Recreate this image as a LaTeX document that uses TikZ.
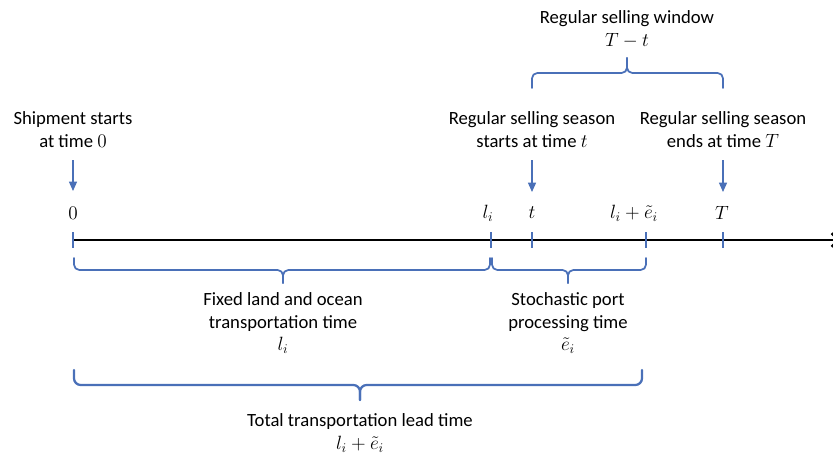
\documentclass[tikz,border=0pt]{standalone}
\usepackage{fontspec}
\setmainfont{Carlito}
\usepackage{amsmath}
\usetikzlibrary{arrows.meta}
\definecolor{obl}{HTML}{4A70B8}
\tikzset{
  lbl/.style={align=center, inner sep=0pt, font=\fontsize{14}{17.2}\selectfont},
  tick/.style={obl, line width=0.9pt},
  pointer/.style={obl, line width=1pt, -{Triangle[width=6pt,length=7pt]}},
  brc/.style={obl, line width=1.3pt, rounded corners=4pt, line cap=round},
  bigbrc/.style={obl, line width=1.7pt, rounded corners=5pt, line cap=round}
}
\begin{document}
\begin{tikzpicture}[x=0.75pt, y=-0.75pt]
\useasboundingbox (0,0) rectangle (833,457);

% time axis
\coordinate (a0) at (73,240);
\coordinate (aend) at (840,240);
\draw[line width=1.8pt, -{Straight Barb[length=5pt]}] (a0) -- (aend);

% tick marks
\foreach \n/\x in {z/73, l/491, t/532, le/646, T/723}{
  \coordinate (k\n) at (\x,240);
  \draw[tick] (\x,232) -- (\x,248);
}

% labels above the ticks
\node[lbl] (n0)  at (73,213)  {$0$};
\node[lbl] (nl)  at (488,213) {$l_i$};
\node[lbl] (nt)  at (532,213) {$t$};
\node[lbl] (nle) at (634,213) {$l_i+\tilde{e}_i$};
\node[lbl] (nT)  at (722,213) {$T$};

% event descriptions with pointers
\node[lbl] (ship)  at (73,130)  {Shipment starts\\at time $0$};
\node[lbl] (start) at (532,130) {Regular selling season\\starts at time $t$};
\node[lbl] (endT)  at (723,130) {Regular selling season\\ends at time $T$};
\coordinate (p0) at (73,160);  \coordinate (q0) at (73,191);
\coordinate (pt) at (532,160); \coordinate (qt) at (532,192);
\coordinate (pT) at (723,160); \coordinate (qT) at (723,192);
\draw[pointer] (p0) -- (q0);
\draw[pointer] (pt) -- (qt);
\draw[pointer] (pT) -- (qT);

% selling window brace
\draw[brc] (532,88) -- (532,73) -- (627,73) -- (627,58);
\draw[brc] (723,88) -- (723,73) -- (627,73) -- (627,58);
\node[lbl] (win) at (627,29) {Regular selling window\\$T-t$};

% fixed transportation brace
\draw[brc] (74,258) -- (74,270) -- (283,270) -- (283,283);
\draw[brc] (490,258) -- (490,270) -- (283,270) -- (283,283);
\node[lbl] (fix) at (283,323) {Fixed land and ocean\\transportation time\\$l_i$};

% port processing brace
\draw[brc] (492,258) -- (492,270) -- (568,270) -- (568,283);
\draw[brc] (646,258) -- (646,270) -- (568,270) -- (568,283);
\node[lbl] (port) at (568,323) {Stochastic port\\processing time\\$\tilde{e}_i$};

% total lead time brace
\draw[bigbrc] (74,370) -- (74,385) -- (360,385) -- (360,400);
\draw[bigbrc] (642,370) -- (642,385) -- (360,385) -- (360,400);
\node[lbl] (tot) at (360,433) {Total transportation lead time\\$l_i+\tilde{e}_i$};
\end{tikzpicture}
\end{document}
